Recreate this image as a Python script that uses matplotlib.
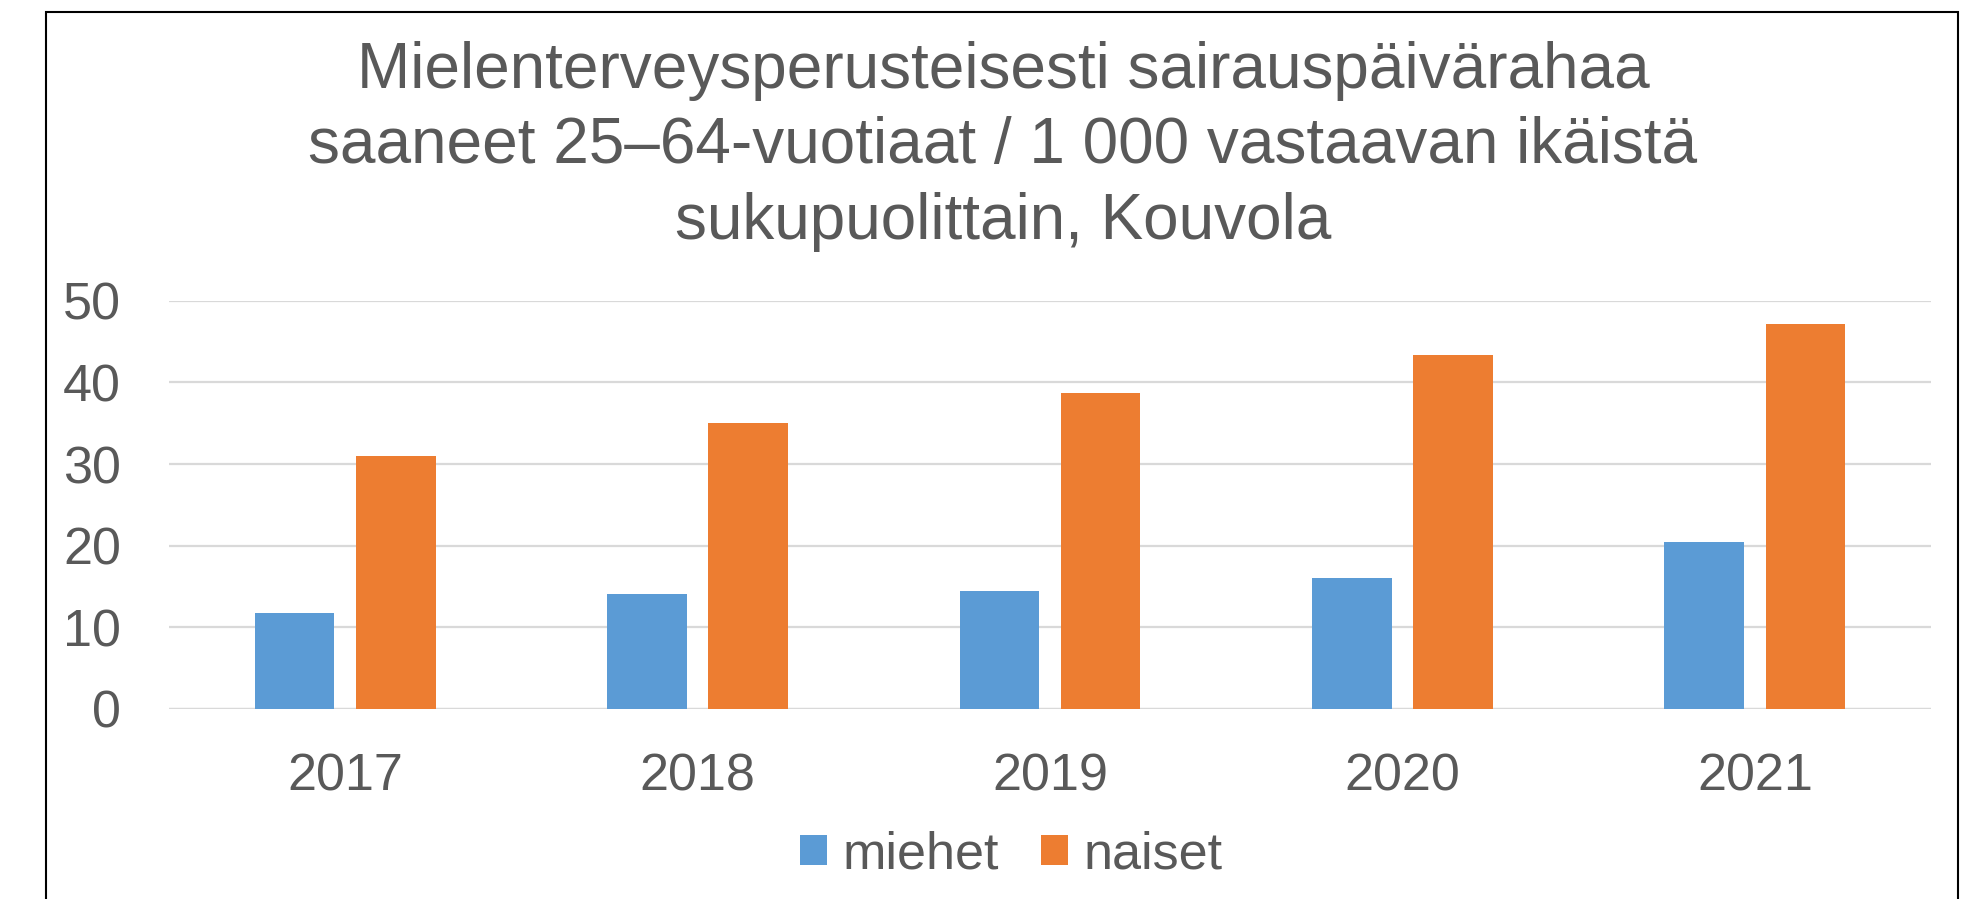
import numpy as np
import matplotlib
matplotlib.use('Agg')
import matplotlib.pyplot as plt
from matplotlib.patches import Patch, Rectangle

years = ['2017', '2018', '2019', '2020', '2021']
miehet = [11.8, 14.1, 14.4, 16.0, 20.4]
naiset = [31.0, 35.0, 38.7, 43.4, 47.1]
series_names = ['miehet', 'naiset']

title = ('Mielenterveysperusteisesti sairauspäivärahaa\n'
         'saaneet 25–64-vuotiaat / 1 000 vastaavan ikäistä\n'
         'sukupuolittain, Kouvola')

blue = '#5B9BD5'
orange = '#ED7D31'
gray_text = '#595959'
grid_color = '#D9D9D9'

plt.rcParams['font.family'] = ['Liberation Sans', 'DejaVu Sans']

fig = plt.figure(figsize=(19.81, 8.99), dpi=100)
ax = fig.add_axes([0.0853, 0.2114, 0.9748 - 0.0853, 0.6655 - 0.2114])

x = np.arange(len(years))
w = 0.226
off = w / 2 + 0.0305
ax.bar(x - off, miehet, width=w, color=blue, zorder=3)
ax.bar(x + off, naiset, width=w, color=orange, zorder=3)

ax.set_xlim(-0.5, len(years) - 0.5)
ax.set_ylim(0, 50)
ax.set_yticks(range(0, 51, 10))
ax.set_xticks(x)
ax.set_xticklabels(years)
ax.grid(axis='y', color=grid_color, linewidth=1.6, zorder=0)
ax.set_axisbelow(True)
for s in ax.spines.values():
    s.set_visible(False)
ax.axhline(0, color=grid_color, linewidth=1.6, zorder=1)
ax.tick_params(axis='both', length=0, labelsize=37.5, labelcolor=gray_text)
ax.tick_params(axis='y', pad=34.5)
ax.tick_params(axis='x', pad=31)

# last title line's baseline sits at y=239 px
fig.text(1003 / 1981, 1 - 239 / 899, title, ha='center', va='baseline',
         fontsize=46, color=gray_text, linespacing=1.333)

handles = [Patch(facecolor=blue, label=series_names[0]),
           Patch(facecolor=orange, label=series_names[1])]
fig.legend(handles=handles, loc='center', bbox_to_anchor=(1011 / 1981, 1 - 855 / 899),
           ncol=2, frameon=False, fontsize=37.5, labelcolor=gray_text,
           handlelength=0.52, handleheight=0.52, handletextpad=0.3, columnspacing=0.8)

fig.patches.append(Rectangle((46 / 1981, -0.1), (1958 - 46) / 1981, 1.1 - 12 / 899,
                             transform=fig.transFigure, fill=False,
                             edgecolor='black', linewidth=1.5, zorder=10))

fig.savefig('out.png', dpi=100, facecolor='white')
